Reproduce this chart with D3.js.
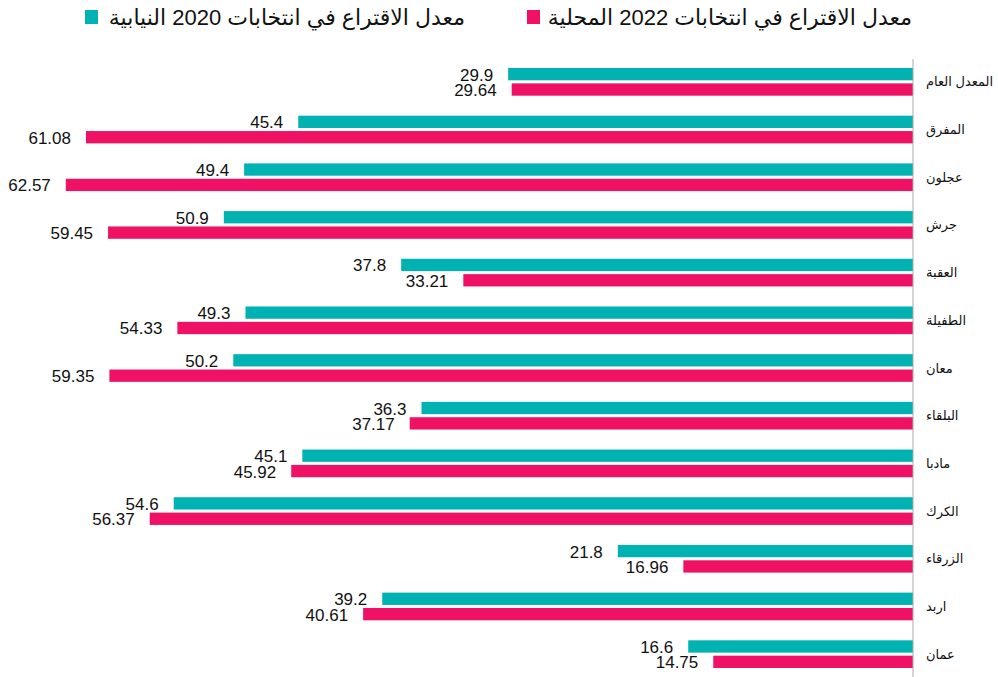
<!DOCTYPE html>
<html lang="ar">
<head>
<meta charset="UTF-8">
<title>معدل الاقتراع</title>
<script src="https://d3js.org/d3.v7.min.js"></script>
<style>
  body { margin: 0; background: #fff; }
  svg { display: block; font-family: "Liberation Sans", Arial, "DejaVu Sans", sans-serif; }
  .val { font-size: 17px; fill: #111; }
  .cat { font-size: 13px; fill: #111; }
  .leg { font-size: 22px; fill: #111; }
</style>
</head>
<body>
<div id="chart"></div>
<script>
// categories, top to bottom
const categories = ["المعدل العام", "المفرق", "عجلون", "جرش", "العقبة", "الطفيلة", "معان",
                    "البلقاء", "مادبا", "الكرك", "الزرقاء", "اربد", "عمان"];
const seriesNames = ["معدل الاقتراع في انتخابات 2020 النيابية", "معدل الاقتراع في انتخابات 2022  المحلية"];
const values2020 = [29.9, 45.4, 49.4, 50.9, 37.8, 49.3, 50.2, 36.3, 45.1, 54.6, 21.8, 39.2, 16.6];
const values2022 = [29.64, 61.08, 62.57, 59.45, 33.21, 54.33, 59.35, 37.17, 45.92, 56.37, 16.96, 40.61, 14.75];
const colors = ["#00b2b2", "#ee1164"];

const width = 998, height = 677;
const axisX = 913;

const rows = categories.map((c, i) => ({ cat: c, vals: [values2020[i], values2022[i]] }));

const svg = d3.select("#chart").append("svg")
    .attr("width", width)
    .attr("height", height);

// bars grow leftwards from the axis at the right
const x = d3.scaleLinear().domain([0, 67.43]).range([axisX, 0]);

const y = d3.scaleBand()
    .domain(categories)
    .range([58, 678])
    .paddingInner(0.42)
    .paddingOuter(0.21);

const ySub = d3.scaleBand()
    .domain([0, 1])
    .range([0, y.bandwidth()])
    .paddingInner(0.2);

const groups = svg.selectAll(".row")
    .data(rows)
    .enter().append("g")
    .attr("class", "row")
    .attr("transform", d => `translate(0,${y(d.cat)})`);

groups.selectAll("rect")
    .data(d => d.vals.map((v, k) => ({ v, k })))
    .enter().append("rect")
    .attr("x", d => x(d.v))
    .attr("y", d => ySub(d.k))
    .attr("width", d => axisX - x(d.v))
    .attr("height", ySub.bandwidth())
    .attr("fill", d => colors[d.k]);

groups.selectAll("text.val")
    .data(d => d.vals.map((v, k) => ({ v, k })))
    .enter().append("text")
    .attr("class", "val")
    .attr("x", d => x(d.v) - 15)
    .attr("y", d => ySub(d.k) + ySub.bandwidth() / 2 + 1)
    .attr("text-anchor", "end")
    .attr("dominant-baseline", "central")
    .text(d => String(d.v));

// axis line with category names on its right
svg.append("line")
    .attr("x1", axisX).attr("x2", axisX)
    .attr("y1", 59).attr("y2", height)
    .attr("stroke", "#aaa")
    .attr("stroke-width", 1);

svg.selectAll("text.cat")
    .data(categories)
    .enter().append("text")
    .attr("class", "cat")
    .attr("x", 926)
    .attr("y", d => y(d) + y.bandwidth() / 2)
    .attr("dominant-baseline", "central")
    .attr("text-anchor", "start")
    .text(d => d);

// legend
const legend = [
    { name: seriesNames[1], color: colors[1], sq: 527, textRight: 912 },
    { name: seriesNames[0], color: colors[0], sq: 85, textRight: 465 }
];
const lg = svg.selectAll(".leg-item")
    .data(legend)
    .enter().append("g");

lg.append("rect")
    .attr("x", d => d.sq)
    .attr("y", 10)
    .attr("width", 13)
    .attr("height", 14)
    .attr("fill", d => d.color);

lg.append("text")
    .attr("class", "leg")
    .attr("x", d => d.textRight)
    .attr("y", 17)
    .attr("text-anchor", "end")
    .attr("dominant-baseline", "central")
    .text(d => d.name);
</script>
</body>
</html>
